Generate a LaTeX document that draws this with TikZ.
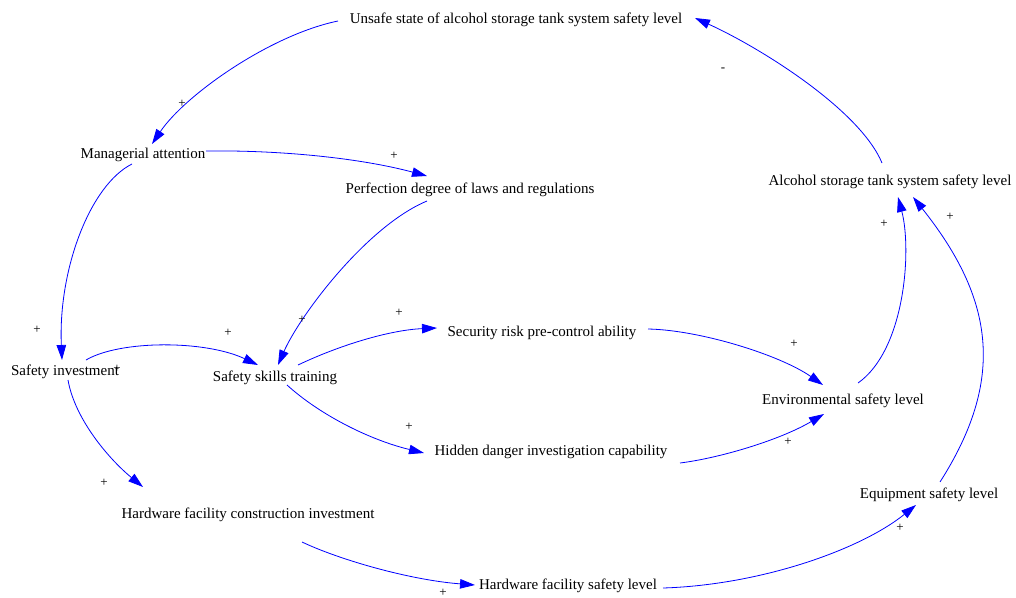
\documentclass[tikz,border=0pt]{standalone}
\usepackage{fontspec}
\setmainfont{Liberation Serif}
\usetikzlibrary{arrows.meta,calc}
\begin{document}
\begin{tikzpicture}[x=1pt,y=-1pt,
  lbl/.style={font=\fontsize{15}{15}\selectfont, inner sep=0pt, anchor=center, text height=11pt, text depth=0pt},
  pol/.style={font=\fontsize{13}{13}\selectfont, inner sep=0pt, anchor=center},
  link/.style={draw=blue, line width=0.8pt, -{Triangle[length=15pt,width=9.5pt]}}]
\useasboundingbox (0,0) rectangle (1016,597);
% variables
\node[lbl] (u)   at (516,18)  {Unsafe state of alcohol storage tank system safety level};
\node[lbl] (ma)  at (143,153) {Managerial attention};
\node[lbl] (pd)  at (470,188) {Perfection degree of laws and regulations};
\node[lbl] (al)  at (890,180) {Alcohol storage tank system safety level};
\node[lbl] (si)  at (65,370)  {Safety investment};
\node[lbl] (sk)  at (275,376) {Safety skills training};
\node[lbl] (sr)  at (542,331) {Security risk pre-control ability};
\node[lbl] (env) at (843,399) {Environmental safety level};
\node[lbl] (hd)  at (551,450) {Hidden danger investigation capability};
\node[lbl] (hc)  at (248,513) {Hardware facility construction investment};
\node[lbl] (eq)  at (929,493) {Equipment safety level};
\node[lbl] (hs)  at (568,584) {Hardware facility safety level};
% links
\draw[link] ($(u)+(-178,3)$) .. controls (270,35) and (185,95) .. ($(ma)+(9,-9)$);
\draw[link] ($(ma)+(63,-2)$) .. controls (280,150) and (360,158) .. ($(pd)+(-43,-12)$);
\draw[link] ($(ma)+(-11,11)$) .. controls (90,185) and (58,270) .. ($(si)+(-3,-10)$);
\draw[link] ($(pd)+(-43,13)$) .. controls (367,226) and (300,315) .. ($(sk)+(3,-11)$);
\draw[link] ($(si)+(21,-10)$) .. controls (120,340) and (205,340) .. ($(sk)+(-17,-11)$);
\draw[link] ($(si)+(3,10)$) .. controls (75,420) and (110,460) .. ($(hc)+(-105,-26)$);
\draw[link] ($(sk)+(23,-11)$) .. controls (340,345) and (390,330) .. ($(sr)+(-105,-3)$);
\draw[link] ($(sk)+(12,9)$) .. controls (320,415) and (370,440) .. ($(hd)+(-127,3)$);
\draw[link] ($(sr)+(106,-2)$) .. controls (700,330) and (780,355) .. ($(env)+(-20,-14)$);
\draw[link] ($(hd)+(129,13)$) .. controls (720,458) and (780,440) .. ($(env)+(-19,15)$);
\draw[link] ($(env)+(15,-16)$) .. controls (905,350) and (912,250) .. ($(al)+(8,17)$);
\draw[link] ($(eq)+(11,-11)$) .. controls (1005,380) and (995,300) .. ($(al)+(23,17)$);
\draw[link] ($(hc)+(54,29)$) .. controls (340,560) and (410,580) .. ($(hs)+(-93,1)$);
\draw[link] ($(hs)+(95,4)$) .. controls (760,585) and (860,550) .. ($(eq)+(-13,12)$);
\draw[link] ($(al)+(-8,-17)$) .. controls (860,110) and (761,48) .. ($(u)+(179,0)$);
% polarities
\node[pol] (p1)  at (182,104) {+};
\node[pol] (p2)  at (394,156) {+};
\node[pol] (p3)  at (37,330)  {+};
\node[pol] (p4)  at (302,320) {+};
\node[pol] (p5)  at (228,333) {+};
\node[pol] (p6)  at (104,483) {+};
\node[pol] (p7)  at (399,313) {+};
\node[pol] (p8)  at (409,427) {+};
\node[pol] (p9)  at (794,344) {+};
\node[pol] (p10) at (788,442) {+};
\node[pol] (p11) at (884,224) {+};
\node[pol] (p12) at (950,217) {+};
\node[pol] (p13) at (443,593) {+};
\node[pol] (p14) at (900,528) {+};
\node[pol] (p15) at (117,369) {+};
\node[pol] (m1)  at (723,70)  {-};
\end{tikzpicture}
\end{document}
